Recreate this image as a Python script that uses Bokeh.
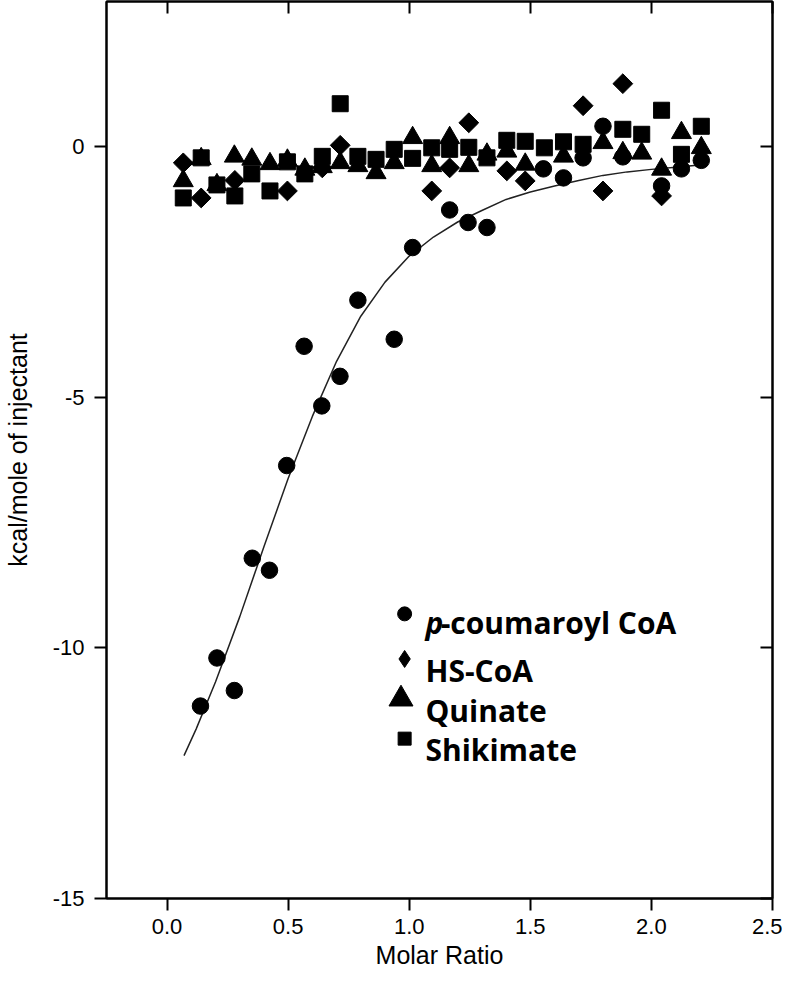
import numpy as np
from bokeh.plotting import figure
from bokeh.models import Range1d, LinearAxis, FixedTicker, Label, CustomLabelingPolicy
from bokeh.embed import file_html
from bokeh.resources import INLINE

# ---------------- data ----------------
coumaroyl_x = [0.138, 0.206, 0.278, 0.352, 0.423, 0.494, 0.566, 0.639, 0.714, 0.788,
               0.938, 1.014, 1.167, 1.243, 1.321, 1.554, 1.637, 1.718, 1.800, 1.882,
               2.042, 2.124, 2.206]
coumaroyl_y = [-11.16, -10.20, -10.85, -8.21, -8.45, -6.36, -3.98, -5.17, -4.58, -3.06,
               -3.84, -2.01, -1.26, -1.51, -1.61, -0.44, -0.62, -0.22, 0.41, -0.20,
               -0.78, -0.44, -0.27]

hscoa_x = [0.067, 0.141, 0.280, 0.497, 0.641, 0.715, 1.093, 1.167, 1.246, 1.403,
           1.479, 1.718, 1.800, 1.882, 2.042]
hscoa_y = [-0.32, -1.02, -0.67, -0.88, -0.42, 0.03, -0.88, -0.42, 0.48, -0.48,
           -0.68, 0.82, -0.88, 1.26, -0.98]

quinate_x = [0.067, 0.141, 0.206, 0.278, 0.350, 0.425, 0.497, 0.569, 0.641, 0.715,
             0.788, 0.863, 0.938, 1.014, 1.093, 1.167, 1.246, 1.321, 1.403, 1.479,
             1.637, 1.800, 1.882, 1.960, 2.042, 2.124, 2.206]
quinate_y = [-0.68, -0.24, -0.76, -0.19, -0.25, -0.34, -0.27, -0.45, -0.40, -0.32,
             -0.38, -0.52, -0.32, 0.18, -0.38, 0.18, -0.38, -0.15, -0.09, -0.35,
             -0.19, 0.08, -0.12, -0.13, -0.45, 0.28, -0.02]

shikimate_x = [0.067, 0.141, 0.206, 0.280, 0.350, 0.425, 0.497, 0.569, 0.641, 0.715,
               0.788, 0.863, 0.938, 1.014, 1.093, 1.167, 1.246, 1.321, 1.403, 1.479,
               1.558, 1.637, 1.718, 1.882, 1.960, 2.042, 2.124, 2.206]
shikimate_y = [-1.02, -0.22, -0.76, -0.98, -0.54, -0.88, -0.30, -0.54, -0.19, 0.86,
               -0.19, -0.25, -0.05, -0.23, -0.02, -0.05, -0.01, -0.22, 0.13, 0.11,
               -0.02, 0.10, 0.05, 0.35, 0.25, 0.73, -0.15, 0.41]

# fitted curve
fit_x = [0.07, 0.12, 0.20, 0.30, 0.40, 0.50, 0.60, 0.70, 0.80, 0.90, 1.00, 1.10,
         1.20, 1.30, 1.40, 1.50, 1.60, 1.70, 1.80, 1.90, 2.00, 2.10, 2.21]
fit_y = [-12.15, -11.62, -10.68, -9.38, -7.98, -6.62, -5.38, -4.28, -3.38, -2.70,
         -2.18, -1.80, -1.50, -1.27, -1.05, -0.90, -0.78, -0.67, -0.57, -0.50,
         -0.45, -0.41, -0.36]

x_ticks = [0.0, 0.5, 1.0, 1.5, 2.0, 2.5]
x_tick_labels = ["0.0", "0.5", "1.0", "1.5", "2.0", "2.5"]
y_ticks = [-15, -10, -5, 0]
y_tick_labels = ["-15", "-10", "-5", "0"]

x_title = "Molar Ratio"
y_title = "kcal/mole of injectant"
legend_names = ["-coumaroyl CoA", "HS-CoA", "Quinate", "Shikimate"]
legend_italic_prefix = "p"

# ---------------- layout / style ----------------
TICK_FONT = "Liberation Sans"
LEG_FONT = "Open Sans"
X0, X1 = -0.25, 2.5
Y0, Y1 = -15, 2.9

p = figure(width=782, height=978,
           x_range=Range1d(X0, X1), y_range=Range1d(Y0, Y1),
           output_backend="svg", toolbar_location=None,
           min_border_left=104, min_border_right=10,
           min_border_top=1, min_border_bottom=80,
           x_axis_label=x_title, y_axis_label=y_title)
p.grid.visible = False
p.outline_line_color = "black"
p.outline_line_width = 2
p.background_fill_color = "white"
p.border_fill_color = "white"

def style_axis(ax, ticks, labels, outward=True, show_labels=True):
    ax.ticker = FixedTicker(ticks=ticks)
    ax.major_label_overrides = {t: l for t, l in zip(ticks, labels)}
    ax.axis_line_color = "black"
    ax.axis_line_width = 2
    ax.major_tick_line_color = "black"
    ax.major_tick_line_width = 2
    ax.minor_tick_line_color = None
    if outward:
        ax.major_tick_out = 12
        ax.major_tick_in = 0
    else:
        ax.major_tick_out = 0
        ax.major_tick_in = 12
    if show_labels:
        ax.major_label_text_font = TICK_FONT
        ax.major_label_text_font_size = "22px"
        ax.major_label_text_color = "black"
        ax.axis_label_text_font = TICK_FONT
        ax.axis_label_text_font_size = "25px"
        ax.axis_label_text_font_style = "normal"
        ax.axis_label_text_color = "black"
    else:
        # mirror axis: inward ticks only, no labels drawn
        ax.major_label_policy = CustomLabelingPolicy(code="return new Set()")
        ax.major_label_text_font_size = "0px"
        ax.major_label_standoff = 0

style_axis(p.xaxis[0], x_ticks, x_tick_labels)
p.xaxis[0].major_label_standoff = 8
p.xaxis[0].axis_label_standoff = 4
style_axis(p.yaxis[0], y_ticks, y_tick_labels)
p.yaxis[0].major_label_standoff = 10
p.yaxis[0].axis_label_standoff = 18

top_ax = LinearAxis()
style_axis(top_ax, x_ticks, x_tick_labels, outward=False, show_labels=False)
p.add_layout(top_ax, "above")
right_ax = LinearAxis()
style_axis(right_ax, y_ticks, y_tick_labels, outward=False, show_labels=False)
p.add_layout(right_ax, "right")

# ---------------- marks ----------------
p.line(fit_x, fit_y, line_color="#222222", line_width=1.5)

p.scatter(quinate_x, quinate_y, marker="triangle", size=20, color="black")
p.scatter(shikimate_x, shikimate_y, marker="square", size=16, color="black")
p.scatter(hscoa_x, hscoa_y, marker="square", angle=np.pi / 4, size=14, color="black")
p.scatter(coumaroyl_x, coumaroyl_y, marker="circle", size=16.5, color="black")

# ---------------- legend (hand placed) ----------------
LEG_MARK_X = [0.981, 0.981, 0.966, 0.981]
LEG_MARK_Y = [-9.32, -10.22, -11.02, -11.81]
LEG_TEXT_X = 1.067
LEG_TEXT_X2 = 1.13
LEG_BASE_Y = [-9.50, -10.46, -11.24, -12.03]
leg_markers = ["circle", "diamond", "triangle", "square"]
leg_sizes = [14, 17, 24, 13]
for mx, my, mk, ms in zip(LEG_MARK_X, LEG_MARK_Y, leg_markers, leg_sizes):
    p.scatter([mx], [my], marker=mk, size=ms, color="black")

p.add_layout(Label(x=LEG_TEXT_X, y=LEG_BASE_Y[0], text=legend_italic_prefix,
                   text_font=LEG_FONT, text_font_size="30px",
                   text_font_style="bold italic", text_color="black",
                   text_baseline="alphabetic"))
for i, name in enumerate(legend_names):
    xx = LEG_TEXT_X2 if i == 0 else LEG_TEXT_X
    p.add_layout(Label(x=xx, y=LEG_BASE_Y[i], text=name,
                       text_font=LEG_FONT, text_font_size="30px",
                       text_font_style="bold", text_color="black",
                       text_baseline="alphabetic"))

open("out.html", "w").write(file_html(p, INLINE))
